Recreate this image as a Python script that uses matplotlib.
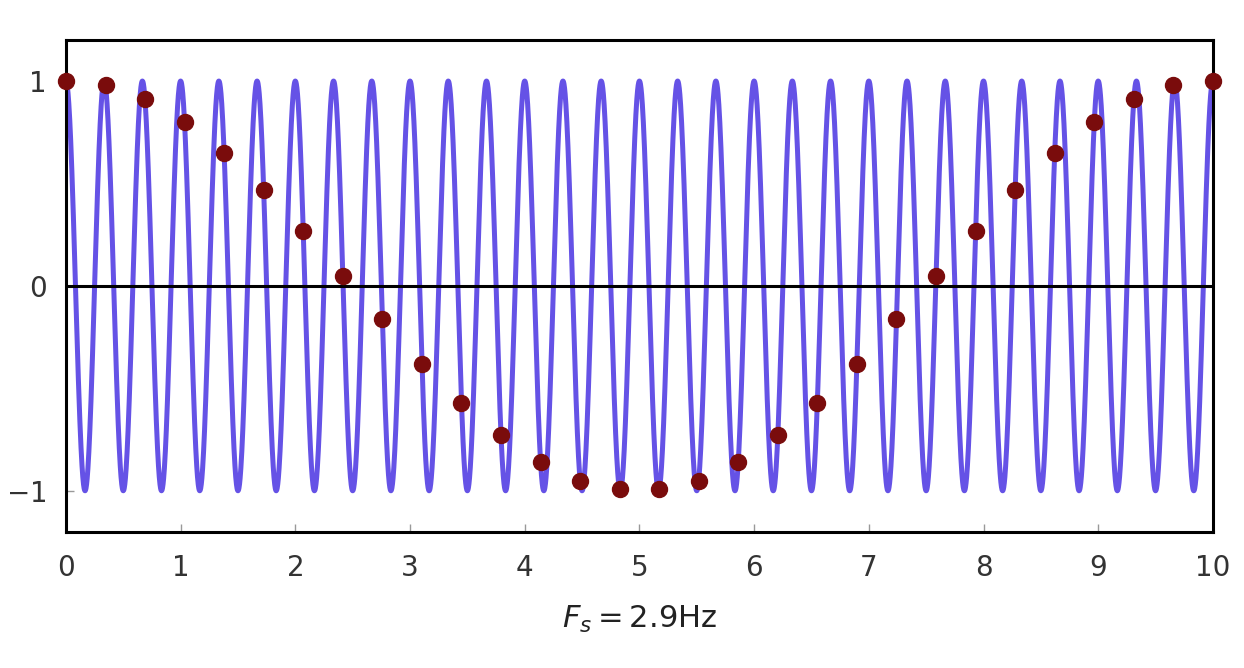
import numpy as np
import matplotlib.pyplot as plt

# continuous signal: 3 Hz cosine over 0..10 s
signal_freq = 3.0
t_start, t_end = 0.0, 10.0

# samples taken at Fs = 2.9 Hz
sample_t = [0.0, 0.345, 0.690, 1.034, 1.379, 1.724, 2.069, 2.414, 2.759, 3.103,
            3.448, 3.793, 4.138, 4.483, 4.828, 5.172, 5.517, 5.862, 6.207, 6.552,
            6.897, 7.241, 7.586, 7.931, 8.276, 8.621, 8.966, 9.310, 9.655, 10.0]
sample_v = [1.0, 0.98, 0.91, 0.80, 0.65, 0.47, 0.27, 0.05, -0.16, -0.38,
            -0.57, -0.73, -0.86, -0.95, -0.99, -0.99, -0.95, -0.86, -0.73, -0.57,
            -0.38, -0.16, 0.05, 0.27, 0.47, 0.65, 0.80, 0.91, 0.98, 1.0]

x_ticks = [0, 1, 2, 3, 4, 5, 6, 7, 8, 9, 10]
y_ticks = [-1, 0, 1]

plt.rcParams['font.family'] = ['DejaVu Sans']
plt.rcParams['mathtext.fontset'] = 'dejavusans'

fig = plt.figure(figsize=(12.44, 6.68), dpi=100)
ax = fig.add_axes([0.053, 0.204, 0.922, 0.736])

t = np.linspace(t_start, t_end, 6000)
ax.plot(t, np.cos(2 * np.pi * signal_freq * t), color='#6552e6', lw=3.6, zorder=2)
ax.axhline(0, color='black', lw=2.2, zorder=3)
ax.plot(sample_t, sample_v, 'o', color='#7a0c0c', markersize=11.5, zorder=4,
        clip_on=False)

ax.set_xlim(t_start, t_end)
ax.set_ylim(-1.2, 1.2)
ax.set_xticks(x_ticks)
ax.set_yticks(y_ticks)
ax.set_yticklabels(['$-1$', '0', '1'])
ax.tick_params(direction='in', length=6, width=1, color='#999999',
               labelsize=20, labelcolor='#333333')
ax.tick_params(axis='x', pad=16)
ax.tick_params(axis='y', pad=14)
for s in ax.spines.values():
    s.set_linewidth(2.2)

ax.set_xlabel(r'$F_s = 2.9$Hz', fontsize=22, color='#222222', labelpad=16)

fig.savefig('out.png', dpi=100)
